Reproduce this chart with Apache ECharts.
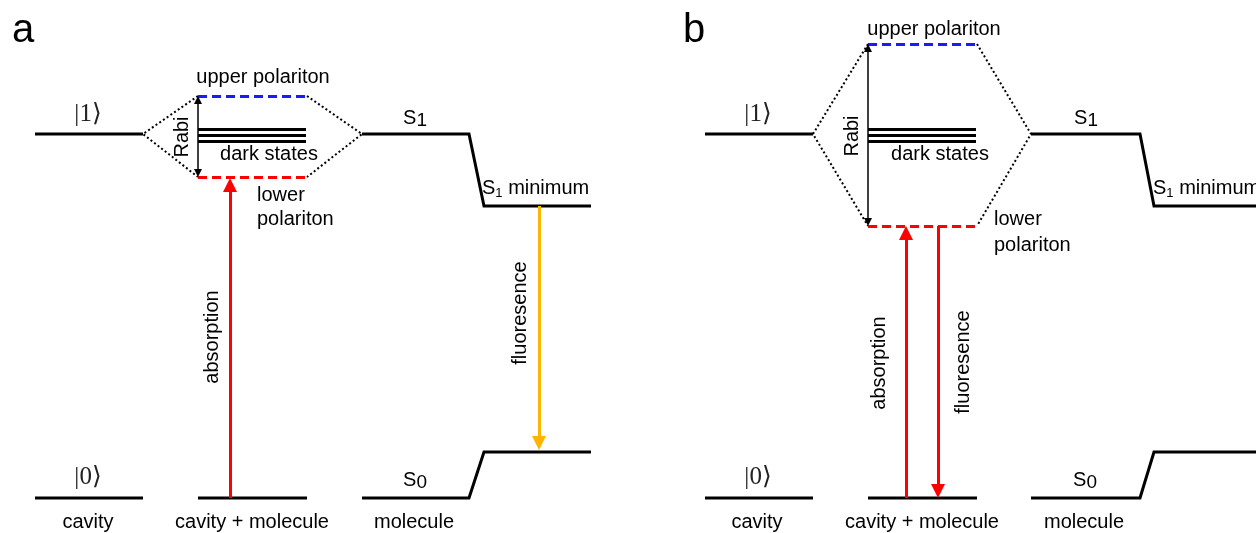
<!DOCTYPE html>
<html><head><meta charset="utf-8">
<script src="https://cdn.jsdelivr.net/npm/echarts@6/dist/echarts.min.js"></script>
<style>html,body{margin:0;padding:0;background:#fff}#c{width:1256px;height:533px}</style>
</head><body><div id="c"></div>
<script>
// ===== Diagram data (diagram units; y grows downward = lower energy) =====
// ---- Panel a ----
const solidA = [
  [[35,134],[143,134]],                          // |1> cavity
  [[362,134],[469,134],[484,206],[591,206]],     // S1 -> S1 minimum
  [[35,498],[143,498]],                          // |0> cavity
  [[198,498],[307,498]],                         // cavity + molecule ground
  [[362,498],[469,498],[484,452],[591,452]]      // S0 -> displaced S0
];
const darkXA = [198, 306];
const darkY = [129, 135, 141];
const upperA = [[198,96],[307,96]];
const lowerA = [[198,177],[307,177]];
const hexA = [[[198,96],[143,134],[198,177]], [[307,96],[362,134],[307,177]]];
const rabiA = [198, 96, 177];           // x, top, bottom
const absorbA = [230, 498, 178];        // x, from, to (head)
const fluorA = [539, 206, 450];

// ---- Panel b ----
const solidB = [
  [[705,134],[813,134]],
  [[1031,134],[1140,134],[1154,206],[1262,206]],
  [[705,498],[813,498]],
  [[868,498],[977,498]],
  [[1031,498],[1140,498],[1154,452],[1262,452]]
];
const darkXB = [868, 976];
const upperB = [[868,44],[977,44]];
const lowerB = [[868,226],[977,226]];
const hexB = [[[868,44],[813,134],[868,226]], [[977,44],[1031,134],[977,226]]];
const rabiB = [868, 44, 226];
const absorbB = [906, 498, 226];
const fluorB = [938, 226, 498];

// ---- Text labels: [text, x, y, kind] ----
const textsA = [
  ['a', 12, 31, 'p'],
  ['upper polariton', 263, 77, 'c'],
  ['dark states', 269, 154, 'c'],
  ['lower', 257, 195, 'l'],
  ['polariton', 257, 219, 'l'],
  ['Rabi', 182, 137, 'r'],
  ['absorption', 212, 337, 'r'],
  ['fluoresence', 520, 313, 'r'],
  ['cavity', 88, 522, 'c'],
  ['cavity + molecule', 252, 522, 'c'],
  ['molecule', 414, 522, 'c'],
  ['{k|\u007C1\u27E9}', 88, 114, 'c'],
  ['{k|\u007C0\u27E9}', 88, 477, 'c'],
  ['{s|S}{sub|1}', 415, 118, 'c'],
  ['{s|S}{sub|0}', 415, 480, 'c'],
  ['{s|S}{sm|1}{s| minimum}', 482, 188, 'l']
];
const textsB = [
  ['b', 683, 31, 'p'],
  ['upper polariton', 934, 29, 'c'],
  ['dark states', 940, 154, 'c'],
  ['lower', 994, 219, 'l'],
  ['polariton', 994, 245, 'l'],
  ['Rabi', 852, 136, 'r'],
  ['absorption', 879, 363, 'r'],
  ['fluoresence', 963, 362, 'r'],
  ['cavity', 757, 522, 'c'],
  ['cavity + molecule', 922, 522, 'c'],
  ['molecule', 1084, 522, 'c'],
  ['{k|\u007C1\u27E9}', 758, 114, 'c'],
  ['{k|\u007C0\u27E9}', 758, 477, 'c'],
  ['{s|S}{sub|1}', 1086, 118, 'c'],
  ['{s|S}{sub|0}', 1085, 480, 'c'],
  ['{s|S}{sm|1}{s| minimum}', 1153, 188, 'l']
];

// ===== Build options =====
const SANS = 'Liberation Sans, Arial, sans-serif';
const HEAD = 14;
function arrow(a, size) {
  const [x, from, to] = a;
  const dir = Math.sign(to - from);
  return { coords: [[x, from], [x, to - dir * size / 2]] };
}
function dbl(a, size) {
  const [x, top, bot] = a;
  return { coords: [[x, top + size / 2], [x, bot - size / 2]] };
}
function darks(xr) { return darkY.map(y => ({ coords: [[xr[0], y], [xr[1], y]] })); }

const kinds = {
  c: { align: 'center' },
  l: { align: 'left' },
  r: { align: 'center', rotate: 90 },
  p: { align: 'left', fontSize: 40 }
};
function textItems(list) {
  return list.map(([t, x, y, k]) => ({
    value: [x, y],
    label: Object.assign({ formatter: t }, kinds[k])
  }));
}
const TXT = { color: '#000', textBorderWidth: 0, textBorderColor: 'transparent', fontFamily: SANS };

const option = {
  animation: false,
  backgroundColor: '#fff',
  grid: { left: 0, right: 0, top: 0, bottom: 0 },
  xAxis: { type: 'value', min: 0, max: 1256, show: false },
  yAxis: { type: 'value', min: 0, max: 533, inverse: true, show: false },
  series: [
    { type: 'lines', coordinateSystem: 'cartesian2d', polyline: true, silent: true,
      lineStyle: { color: '#000', width: 3, opacity: 1, join: 'miter' },
      data: solidA.concat(solidB).map(c => ({ coords: c })) },
    { type: 'lines', coordinateSystem: 'cartesian2d', silent: true,
      lineStyle: { color: '#000', width: 3, opacity: 1 },
      data: darks(darkXA).concat(darks(darkXB)) },
    { type: 'lines', coordinateSystem: 'cartesian2d', polyline: true, silent: true,
      lineStyle: { color: '#000', width: 2, opacity: 1, type: [2, 2.5] },
      data: hexA.concat(hexB).map(c => ({ coords: c })) },
    { type: 'lines', coordinateSystem: 'cartesian2d', silent: true,
      lineStyle: { color: '#1a1aff', width: 3, opacity: 1, type: [9, 5] },
      data: [{ coords: upperA }, { coords: upperB }] },
    { type: 'lines', coordinateSystem: 'cartesian2d', silent: true,
      lineStyle: { color: '#ff0000', width: 3, opacity: 1, type: [9, 5] },
      data: [{ coords: lowerA }, { coords: lowerB }] },
    { type: 'lines', coordinateSystem: 'cartesian2d', silent: true,
      symbol: ['triangle', 'triangle'], symbolSize: 8,
      lineStyle: { color: '#000', width: 1.5, opacity: 1 },
      data: [dbl(rabiA, 8), dbl(rabiB, 8)] },
    { type: 'lines', coordinateSystem: 'cartesian2d', silent: true,
      symbol: ['none', 'triangle'], symbolSize: HEAD,
      lineStyle: { color: '#ff0000', width: 3, opacity: 1 },
      data: [arrow(absorbA, HEAD), arrow(absorbB, HEAD), arrow(fluorB, HEAD)] },
    { type: 'lines', coordinateSystem: 'cartesian2d', silent: true,
      symbol: ['none', 'triangle'], symbolSize: HEAD,
      lineStyle: { color: '#ffb400', width: 3, opacity: 1 },
      data: [arrow(fluorA, HEAD)] },
    { type: 'scatter', symbolSize: 0, silent: true,
      itemStyle: { color: '#000', opacity: 1 },
      label: Object.assign({
        show: true, position: 'inside', fontSize: 20, verticalAlign: 'middle',
        rich: {
          s: Object.assign({ fontSize: 20, lineHeight: 24 }, TXT),
          sub: Object.assign({ fontSize: 19, lineHeight: 18, verticalAlign: 'bottom' }, TXT),
          sm: Object.assign({ fontSize: 13, lineHeight: 14, verticalAlign: 'bottom' }, TXT),
          k: Object.assign({}, TXT, { fontSize: 25, lineHeight: 28, color: '#222',
               fontFamily: 'Liberation Serif, DejaVu Serif, serif' })
        }
      }, TXT),
      data: textItems(textsA.concat(textsB)) }
  ]
};
const chart = echarts.init(document.getElementById('c'), null, { renderer: 'canvas' });
chart.setOption(option);
</script>
</body></html>
